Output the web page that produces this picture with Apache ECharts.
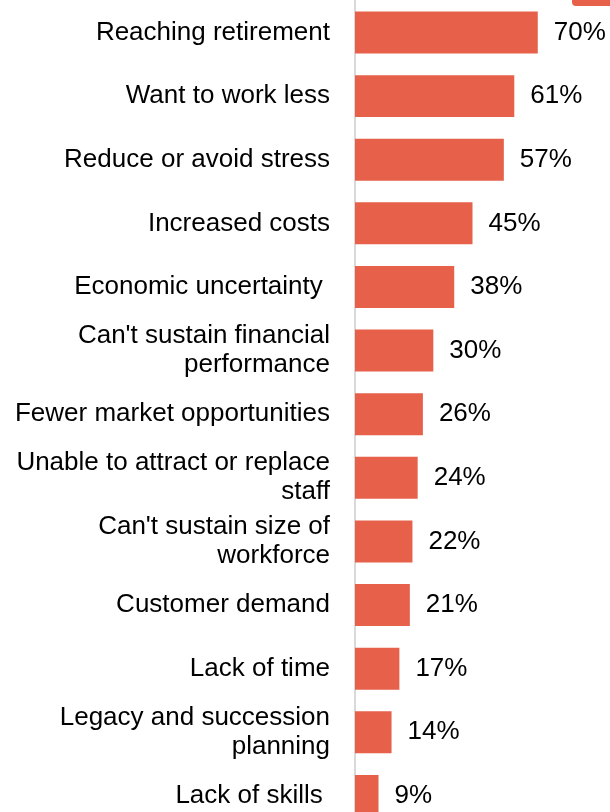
<!DOCTYPE html>
<html>
<head>
<meta charset="utf-8">
<title>Reasons for exiting the business</title>
<script src="https://cdn.jsdelivr.net/npm/echarts@6/dist/echarts.min.js"></script>
<style>
  html, body { margin: 0; padding: 0; background: #ffffff; }
  #chart { width: 610px; height: 812px; }
</style>
</head>
<body>
<div id="chart"></div>
<script>
// Reasons given, top to bottom
const categories = [
  'Reaching retirement',
  'Want to work less',
  'Reduce or avoid stress',
  'Increased costs',
  'Economic uncertainty ',
  "Can't sustain financial\nperformance",
  'Fewer market opportunities',
  'Unable to attract or replace\nstaff',
  "Can't sustain size of\nworkforce",
  'Customer demand',
  'Lack of time',
  'Legacy and succession\nplanning',
  'Lack of skills '
];

// Share of respondents (%)
const shares = [70, 61, 57, 45, 38, 30, 26, 24, 22, 21, 17, 14, 9];

const seriesName = 'Share of respondents';
const barColor = '#E6604A';
const font = 'Liberation Sans, Arial, sans-serif';

const chart = echarts.init(document.getElementById('chart'), null, { renderer: 'canvas' });

chart.setOption({
  animation: false,
  backgroundColor: '#ffffff',
  legend: {
    data: [seriesName],
    left: 567,
    top: -15,
    itemWidth: 44,
    itemHeight: 16,
    itemGap: 0,
    textStyle: { fontFamily: font, fontSize: 14, color: '#000' }
  },
  grid: {
    left: 355,
    top: 0.7,
    width: 235,
    height: 827,
    containLabel: false,
    outerBoundsMode: 'none'
  },
  xAxis: {
    type: 'value',
    min: 0,
    max: 90,
    show: false
  },
  yAxis: {
    type: 'category',
    inverse: true,
    data: categories,
    axisLine: { show: true, lineStyle: { color: '#d9d9d9', width: 2 } },
    axisTick: { show: false },
    axisLabel: {
      color: '#000000',
      fontFamily: font,
      fontSize: 26,
      lineHeight: 29,
      margin: 25,
      align: 'right'
    }
  },
  series: [{
    name: seriesName,
    type: 'bar',
    data: shares,
    barCategoryGap: '34%',
    itemStyle: { color: barColor },
    label: {
      show: true,
      position: 'right',
      distance: 16,
      formatter: '{c}%',
      color: '#000000',
      fontFamily: font,
      fontSize: 26
    }
  }]
});
</script>
</body>
</html>
